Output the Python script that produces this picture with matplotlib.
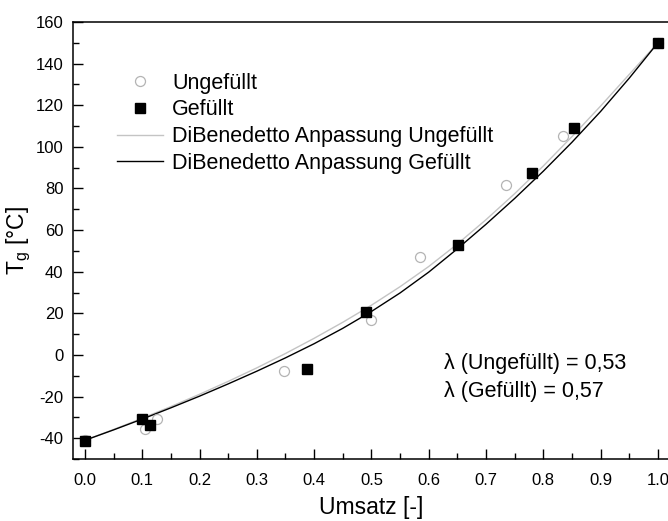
import matplotlib
matplotlib.use("Agg")
import matplotlib.pyplot as plt
from matplotlib.ticker import MultipleLocator

plt.rcParams['font.family'] = ['Liberation Sans', 'DejaVu Sans']
plt.rcParams['mathtext.default'] = 'regular'
plt.rcParams['axes.unicode_minus'] = False

# Measured data
x_ungefuellt = [0.0, 0.105, 0.125, 0.347, 0.500, 0.585, 0.735, 0.835, 1.0]
y_ungefuellt = [-41, -35.5, -31, -7.5, 17, 47, 81.5, 105, 150]

x_gefuellt = [0.0, 0.100, 0.113, 0.387, 0.491, 0.651, 0.781, 0.854, 1.0]
y_gefuellt = [-41.3, -31, -33.7, -6.7, 20.8, 52.9, 87.2, 109.3, 150]

# DiBenedetto fit curves
x_fit = [0.0, 0.05, 0.10, 0.15, 0.20, 0.25, 0.30, 0.35, 0.40, 0.45, 0.50,
         0.55, 0.60, 0.65, 0.70, 0.75, 0.80, 0.85, 0.90, 0.95, 1.0]
y_fit_ungefuellt = [-41, -35.8, -30.4, -24.8, -18.9, -12.7, -6.2, 0.7, 8.0,
                    15.7, 23.9, 32.8, 42.5, 53.3, 65.0, 77.5, 90.8, 104.9,
                    119.6, 134.8, 150]
y_fit_gefuellt = [-41, -36.0, -30.8, -25.4, -19.8, -13.9, -7.8, -1.4, 5.4,
                  12.8, 20.9, 29.8, 39.8, 51.0, 62.8, 75.2, 88.3, 102.2,
                  117.0, 133.0, 150]

labels = ["Ungefüllt", "Gefüllt", "DiBenedetto Anpassung Ungefüllt",
          "DiBenedetto Anpassung Gefüllt"]
annot = ["λ (Ungefüllt) = 0,53", "λ (Gefüllt) = 0,57"]

fig = plt.figure(figsize=(6.68, 5.21), dpi=100)
ax = fig.add_axes([73/668, 62/521, (669.5-73)/668, 437/521])

h1, = ax.plot(x_ungefuellt, y_ungefuellt, linestyle='none', marker='o',
              markersize=7.2, markerfacecolor='white', markeredgecolor='#b4b4b4',
              markeredgewidth=0.9, zorder=3)
h2, = ax.plot(x_gefuellt, y_gefuellt, linestyle='none', marker='s',
              markersize=6.6, markerfacecolor='black', markeredgecolor='black',
              zorder=4)
h3, = ax.plot(x_fit, y_fit_ungefuellt, color='#c4c4c4', linewidth=1.0, zorder=2)
h4, = ax.plot(x_fit, y_fit_gefuellt, color='black', linewidth=1.0, zorder=2)

ax.set_xlim(-0.0209, 1.0203)
ax.set_ylim(-50, 160)
ax.xaxis.set_major_locator(MultipleLocator(0.1))
ax.xaxis.set_minor_locator(MultipleLocator(0.05))
ax.yaxis.set_minor_locator(MultipleLocator(10))
ax.set_yticks([-40, -20, 0, 20, 40, 60, 80, 100, 120, 140, 160])

ax.tick_params(which='major', direction='in', length=7.2, width=1.0,
               labelsize=12, pad=7)
ax.tick_params(axis='x', which='major', pad=10)
ax.tick_params(which='minor', direction='in', length=4.3, width=1.0)
ax.tick_params(axis='x', which='both', top=False)
for s in ax.spines.values():
    s.set_linewidth(1.1)

ax.set_xlabel("Umsatz [-]", fontsize=16.5, labelpad=5.5)
ax.set_ylabel("T$_g$ [°C]", fontsize=16.5, labelpad=2)

leg = ax.legend([h1, h2, h3, h4], labels, loc='upper left',
                bbox_to_anchor=(117/668, 1 - 72.5/521), bbox_transform=fig.transFigure,
                frameon=False, fontsize=15.5, handlelength=2.14,
                handletextpad=0.42, labelspacing=0.27, borderpad=0,
                borderaxespad=0)

ax.text(444/668, 1 - 364/521, annot[0], transform=fig.transFigure,
        fontsize=15.5, va='center', ha='left')
ax.text(444/668, 1 - 392/521, annot[1], transform=fig.transFigure,
        fontsize=15.5, va='center', ha='left')

fig.savefig("out.png", dpi=100)
